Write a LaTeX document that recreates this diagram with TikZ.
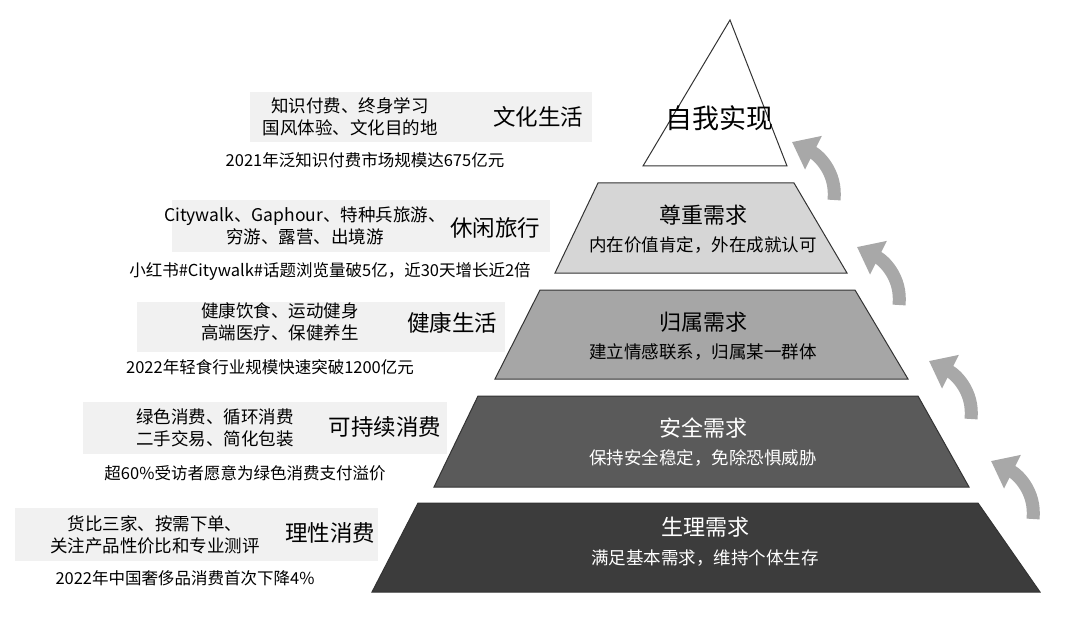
\documentclass[tikz,border=0pt]{standalone}
\usepackage{fontspec}
\setmainfont{Noto Sans CJK SC}
\usetikzlibrary{arrows.meta}

\definecolor{tierA}{HTML}{D6D6D6}
\definecolor{tierB}{HTML}{A6A6A6}
\definecolor{tierC}{HTML}{5A5A5A}
\definecolor{tierD}{HTML}{3C3C3C}
\definecolor{boxgray}{HTML}{F1F1F1}
\definecolor{arrowgray}{HTML}{A8A8A8}

\begin{document}
\begin{tikzpicture}[
    x=1pt, y=-1pt,
    tier/.style={draw=black!80, line width=1pt},
    tiername/.style={font=\fontsize{22}{26}\selectfont},
    tiernote/.style={font=\fontsize{17.5}{20}\selectfont},
    infobox/.style={fill=boxgray, draw=none},
    infotext/.style={align=center, font=\fontsize{17.5}{22}\selectfont},
    infotitle/.style={font=\fontsize{22.5}{26}\selectfont},
    infonote/.style={font=\fontsize{16.5}{19}\selectfont},
    uparrow/.style={arrowgray, line width=13pt, -{Triangle[width=36pt, length=24pt]}}
]
\useasboundingbox (0,0) rectangle (1080,623);

%-------------------------------------------------
% Pyramid tiers
%-------------------------------------------------
\draw[tier, fill=white] (730,20) -- (787,166) -- (643,166) -- cycle;
\draw[tier, fill=tierA] (598,183) -- (794,183) -- (847,273) -- (555,273) -- cycle;
\draw[tier, fill=tierB] (540,290) -- (855,290) -- (908,379) -- (495,379) -- cycle;
\draw[tier, fill=tierC] (478,396) -- (918,396) -- (969,487) -- (434,487) -- cycle;
\draw[tier, fill=tierD] (418,503) -- (978,503) -- (1040,592) -- (372,592) -- cycle;

\node[tiername, font=\fontsize{27}{30}\selectfont] (self) at (719,118) {自我实现};
\node[tiername] (esteem) at (703,215) {尊重需求};
\node[tiernote] (esteemnote) at (703,245) {内在价值肯定，外在成就认可};
\node[tiername] (belong) at (703,322) {归属需求};
\node[tiernote] (belongnote) at (703,352) {建立情感联系，归属某一群体};
\node[tiername, white] (safety) at (703,428) {安全需求};
\node[tiernote, white] (safetynote) at (703,458) {保持安全稳定，免除恐惧威胁};
\node[tiername, white] (body) at (705,527) {生理需求};
\node[tiernote, white] (bodynote) at (705,558) {满足基本需求，维持个体生存};

%-------------------------------------------------
% Arrows
%-------------------------------------------------
\draw[uparrow] (834,200) .. controls (837,172) and (818,155) .. (792,142);
\draw[uparrow] (899,305) .. controls (902,277) and (883,260) .. (857,247);
\draw[uparrow] (971,419) .. controls (974,391) and (955,374) .. (929,361);
\draw[uparrow] (1033,519) .. controls (1036,491) and (1017,474) .. (991,461);

%-------------------------------------------------
% Info boxes
%-------------------------------------------------
\fill[infobox] (250,92) rectangle (592,142);
\node[infotext] (culture) at (350,117) {知识付费、终身学习\\国风体验、文化目的地};
\node[infotitle] (culturetitle) at (538,117) {文化生活};
\node[infonote] (culturenote) at (365,160) {2021年泛知识付费市场规模达675亿元};

\fill[infobox] (172,200) rectangle (550,252);
\node[infotext] (travel) at (305,226) {Citywalk、Gaphour、特种兵旅游、\\穷游、露营、出境游};
\node[infotitle] (traveltitle) at (495,228) {休闲旅行};
\node[infonote] (travelnote) at (330,271) {小红书\#Citywalk\#话题浏览量破5亿，近30天增长近2倍};

\fill[infobox] (137,302) rectangle (505,352);
\node[infotext] (health) at (280,322) {健康饮食、运动健身\\高端医疗、保健养生};
\node[infotitle] (healthtitle) at (452,323) {健康生活};
\node[infonote] (healthnote) at (270,367) {2022年轻食行业规模快速突破1200亿元};

\fill[infobox] (83,402) rectangle (447,454);
\node[infotext] (green) at (215,428) {绿色消费、循环消费\\二手交易、简化包装};
\node[infotitle] (greentitle) at (385,427) {可持续消费};
\node[infonote] (greennote) at (245,473) {超60\%受访者愿意为绿色消费支付溢价};

\fill[infobox] (15,508) rectangle (378,561);
\node[infotext] (smart) at (155,535) {货比三家、按需下单、\\关注产品性价比和专业测评};
\node[infotitle] (smarttitle) at (330,533) {理性消费};
\node[infonote] (smartnote) at (185,578) {2022年中国奢侈品消费首次下降4\%};

\end{tikzpicture}
\end{document}
